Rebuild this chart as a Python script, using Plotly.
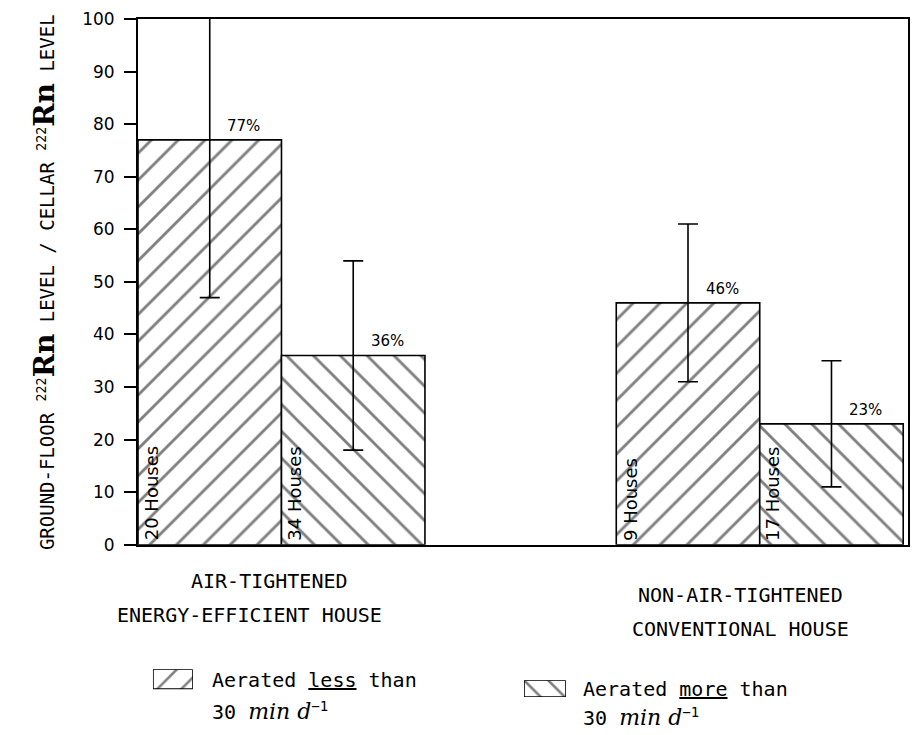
import plotly.graph_objects as go

# ---------------- data ----------------
categories = ["AIR-TIGHTENED ENERGY-EFFICIENT HOUSE", "NON-AIR-TIGHTENED CONVENTIONAL HOUSE"]
cat_line1 = ["AIR-TIGHTENED", "NON-AIR-TIGHTENED"]
cat_line2 = ["ENERGY-EFFICIENT HOUSE", "CONVENTIONAL HOUSE"]

less_values = [77, 46]
less_errors = [30, 15]
less_houses = [20, 9]

more_values = [36, 23]
more_errors = [18, 12]
more_houses = [34, 17]

series_line1 = ["Aerated <u>less</u> than", "Aerated <u>more</u> than"]
series_line2 = ["30 <i><span style='font-family:DejaVu Serif;font-size:22px'>min d</span></i><sup>−1</sup>"] * 2
y_ticks = [0, 10, 20, 30, 40, 50, 60, 70, 80, 90, 100]

# ---------------- layout helpers ----------------
W, H = 913, 735
ML, MR, MT, MB = 138, 3, 19, 10
PW, PH = W - ML - MR, H - MT - MB
Y0_PIX = 547            # pixel row of y = 0


def px(xpix):
    return (xpix - ML) / PW


def py(ypix):
    return (H - MB - ypix) / PH


BARGAP = 0.4
BW = (1 - BARGAP) / 2
MONO = "DejaVu Sans Mono"
SANS = "DejaVu Sans"
SHAPES = ["/", "\\"]


def pattern(shape, size=19):
    return dict(shape=shape, fgcolor="black", bgcolor="white", size=size, solidity=0.15)


fig = go.Figure()

for vals, errs, shape in [(less_values, less_errors, SHAPES[0]),
                          (more_values, more_errors, SHAPES[1])]:
    fig.add_trace(go.Bar(
        x=categories, y=vals, showlegend=False,
        marker=dict(color="white", line=dict(color="black", width=1.6), pattern=pattern(shape)),
        error_y=dict(type="data", array=errs, color="black", thickness=1.6, width=10),
    ))

annotations = []
for j, (vals, houses) in enumerate([(less_values, less_houses), (more_values, more_houses)]):
    for i, (v, h) in enumerate(zip(vals, houses)):
        center = i + (j - 0.5) * BW
        left = center - BW / 2
        annotations.append(dict(x=center, y=v, xref="x", yref="y", text=f"{v}%",
                                showarrow=False, xanchor="center", yanchor="bottom",
                                xshift=34, yshift=3,
                                font=dict(family=SANS, size=15, color="black")))
        annotations.append(dict(x=left, y=0, xref="x", yref="y", text=f"{h} Houses",
                                showarrow=False, textangle=-90, xanchor="left",
                                yanchor="bottom", xshift=1, yshift=2,
                                font=dict(family=SANS, size=18, color="black")))

# category labels (line centre x-shift from group centre, pixel row)
cat_pos1 = [(-12, 583), (-19, 597)]
cat_pos2 = [(-32, 618), (-19, 632)]
for i in range(len(categories)):
    for text, (dx, ypix) in [(cat_line1[i], cat_pos1[i]), (cat_line2[i], cat_pos2[i])]:
        annotations.append(dict(x=i, y=py(ypix), xref="x", yref="paper", text=text,
                                showarrow=False, xanchor="center", yanchor="middle",
                                xshift=dx, font=dict(family=MONO, size=20, color="black")))

# legend (swatches drawn as small patterned bars on their own axes, text as annotations)
legend_swatch = [(153, 193, 672, 692), (525, 567, 683, 700)]
legend_text = [(210, 683, 714), (582, 692, 720)]
for k in range(2):
    x0, x1, y0, y1 = legend_swatch[k]
    ax = k + 2
    fig.add_trace(go.Bar(x=[0], y=[1], width=[1], xaxis=f"x{ax}", yaxis=f"y{ax}",
                         showlegend=False, hoverinfo="skip",
                         marker=dict(color="white", line=dict(color="black", width=1.6),
                                     pattern=pattern(SHAPES[k], 17))))
    fig.update_layout({
        f"xaxis{ax}": dict(domain=[px(x0), px(x1)], range=[-0.5, 0.5], visible=False,
                           anchor=f"y{ax}", fixedrange=True),
        f"yaxis{ax}": dict(domain=[py(y1), py(y0)], range=[0, 1], visible=False,
                           anchor=f"x{ax}", fixedrange=True),
    })
    tx, ty1, ty2 = legend_text[k]
    for text, ty in [(series_line1[k], ty1), (series_line2[k], ty2)]:
        annotations.append(dict(x=px(tx), y=py(ty), xref="paper", yref="paper", text=text,
                                showarrow=False, xanchor="left", yanchor="middle",
                                font=dict(family=MONO, size=20, color="black")))

rn = "<span style='font-family:DejaVu Serif;font-size:28px'><b>Rn</b></span>"
ytitle = f"GROUND-FLOOR <sup>222</sup>{rn} LEVEL / CELLAR <sup>222</sup>{rn} LEVEL"
annotations.append(dict(x=px(45), y=py(283), xref="paper", yref="paper", text=ytitle,
                        showarrow=False, textangle=-90, xanchor="center", yanchor="middle",
                        font=dict(family=MONO, size=19, color="black")))

fig.update_layout(
    width=W, height=H,
    margin=dict(l=ML, r=MR, t=MT, b=MB),
    paper_bgcolor="white", plot_bgcolor="white",
    barmode="group", bargap=BARGAP, bargroupgap=0,
    showlegend=False,
    annotations=annotations,
    xaxis=dict(domain=[0, 1], range=[-0.3, 1.31], showticklabels=False, ticks="",
               showgrid=False, zeroline=False, showline=True, mirror=True,
               linecolor="black", linewidth=2, anchor="y"),
    yaxis=dict(domain=[py(Y0_PIX), 1], range=[0, 100], tickvals=y_ticks, ticks="outside",
               ticklen=12, tickwidth=1.5, tickcolor="black", showgrid=False,
               zeroline=False, showline=True, mirror=True, linecolor="black",
               linewidth=2, ticklabelstandoff=6, anchor="x",
               tickfont=dict(family=SANS, size=17, color="black")),
)

fig.write_html("out.html", config={"displayModeBar": False},
               post_script="document.body.style.margin='0';document.body.style.overflow='hidden';")
